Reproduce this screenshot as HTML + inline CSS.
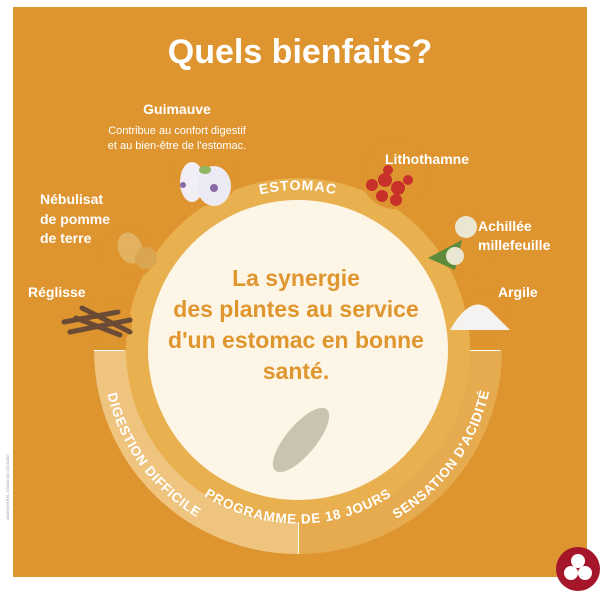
<!DOCTYPE html>
<html><head><meta charset="utf-8"><style>
html,body{margin:0;padding:0;background:#fff;width:600px;height:600px;overflow:hidden}
svg{display:block}
text{font-family:"Liberation Sans",sans-serif;font-weight:bold}
</style></head><body>
<svg width="600" height="600" viewBox="0 0 600 600">
<rect x="13" y="7" width="574" height="570" fill="#de952f"/>
<path d="M94,350 A204,204 0 0 0 298,554 L298,350 Z" fill="#efc47f"/>
<path d="M298,554 A204,204 0 0 0 502,350 L298,350 Z" fill="#e6ab4f"/>
<circle cx="298" cy="350" r="172" fill="#e9b04f"/>
<circle cx="205" cy="172" r="34" fill="#de952f"/>
<circle cx="395" cy="175" r="34" fill="#de952f"/>
<circle cx="128" cy="252" r="28" fill="#de952f"/>
<circle cx="468" cy="245" r="30" fill="#de952f"/>
<circle cx="108" cy="322" r="24" fill="#de952f"/>
<circle cx="488" cy="315" r="24" fill="#de952f"/>
<circle cx="298" cy="350" r="150" fill="#fdf5e6"/>
<line x1="94" y1="350.5" x2="124" y2="350.5" stroke="#fff" stroke-width="1"/>
<line x1="470" y1="350.5" x2="500" y2="350.5" stroke="#fff" stroke-width="1"/>
<line x1="298.5" y1="522" x2="298.5" y2="554" stroke="#fff" stroke-width="1"/>
<defs>
<path id="topA" d="M136,352 A160,160 0 0 1 460,352"/>
<path id="botA" d="M128,350 A170,170 0 0 0 468,350"/>
<path id="botB" d="M106,350 A192,192 0 0 0 490,350"/>
</defs>
<text font-size="14" fill="#fff" letter-spacing="1"><textPath href="#topA" startOffset="50%" text-anchor="middle">ESTOMAC</textPath></text>
<text font-size="13.5" fill="#fff" letter-spacing="0.6"><textPath href="#botA" startOffset="50%" text-anchor="middle" dominant-baseline="middle">PROGRAMME DE 18 JOURS</textPath></text>
<text font-size="13.5" fill="#fff" letter-spacing="0.6"><textPath href="#botB" startOffset="20%" text-anchor="middle" dominant-baseline="middle">DIGESTION DIFFICILE</textPath></text>
<text font-size="13.5" fill="#fff" letter-spacing="0.6"><textPath href="#botB" startOffset="80%" text-anchor="middle" dominant-baseline="middle">SENSATION D'ACIDITÉ</textPath></text>
<text x="300" y="63" font-size="34" fill="#fff" text-anchor="middle">Quels bienfaits?</text>
<text x="177" y="114" font-size="14" fill="#fff" text-anchor="middle">Guimauve</text>
<text x="177" y="134" font-size="11" fill="#fff" text-anchor="middle" style="font-weight:normal">Contribue au confort digestif</text>
<text x="177" y="149" font-size="11" fill="#fff" text-anchor="middle" style="font-weight:normal">et au bien-être de l'estomac.</text>
<text x="385" y="164" font-size="14" fill="#fff">Lithothamne</text>
<text x="40" y="204" font-size="14" fill="#fff">Nébulisat</text>
<text x="40" y="224" font-size="14" fill="#fff">de pomme</text>
<text x="40" y="243" font-size="14" fill="#fff">de terre</text>
<text x="478" y="231" font-size="14" fill="#fff">Achillée</text>
<text x="478" y="250" font-size="14" fill="#fff">millefeuille</text>
<text x="28" y="297" font-size="14" fill="#fff">Réglisse</text>
<text x="498" y="297" font-size="14" fill="#fff">Argile</text>
<g fill="#e0962f" font-size="23" text-anchor="middle">
<text x="296" y="286">La synergie</text>
<text x="296" y="317">des plantes au service</text>
<text x="296" y="348">d'un estomac en bonne</text>
<text x="296" y="379">santé.</text>
</g>
<ellipse cx="301" cy="440" rx="40" ry="15" fill="#c9c4b0" transform="rotate(-50 301 440)"/>
<g>
<ellipse cx="192" cy="182" rx="12" ry="20" fill="#f2eef6"/>
<ellipse cx="214" cy="186" rx="17" ry="20" fill="#ecebf5"/>
<circle cx="214" cy="188" r="4" fill="#8a6aa6"/>
<circle cx="183" cy="185" r="3" fill="#8a6aa6"/>
<ellipse cx="205" cy="170" rx="6" ry="4" fill="#8fb565"/>
</g>
<g fill="#c8302a">
<circle cx="372" cy="185" r="6"/><circle cx="385" cy="180" r="7"/><circle cx="398" cy="188" r="7"/>
<circle cx="382" cy="196" r="6"/><circle cx="396" cy="200" r="6"/><circle cx="388" cy="170" r="5"/><circle cx="408" cy="180" r="5"/>
</g>
<g>
<path d="M428,258 L462,240 L455,270 Z" fill="#5d8a3b"/>
<circle cx="466" cy="227" r="11" fill="#ebe6d2"/>
<circle cx="455" cy="256" r="9" fill="#ebe6d2"/>
</g>
<g>
<ellipse cx="130" cy="248" rx="12" ry="16" fill="#e2b260" transform="rotate(-20 130 248)"/>
<ellipse cx="146" cy="258" rx="11" ry="11" fill="#d9a550"/>
</g>
<g stroke="#6b4a36" stroke-width="5" stroke-linecap="round">
<line x1="64" y1="322" x2="118" y2="312"/>
<line x1="70" y1="332" x2="130" y2="320"/>
<line x1="82" y1="308" x2="130" y2="332"/>
<line x1="76" y1="318" x2="120" y2="335"/>
</g>
<path d="M450,330 Q470,295 488,308 Q500,320 510,330 Z" fill="#f4f3f2"/>
<circle cx="578" cy="569" r="22" fill="#a5162a"/>
<g fill="#fff"><circle cx="578" cy="561" r="7"/><circle cx="571" cy="573" r="7"/><circle cx="585" cy="573" r="7"/></g>
<text x="9" y="520" font-size="4" fill="#999" style="font-weight:normal" transform="rotate(-90 9 520)">40064296 BEL 1000x1000 20240327</text>
</svg>
</body></html>
